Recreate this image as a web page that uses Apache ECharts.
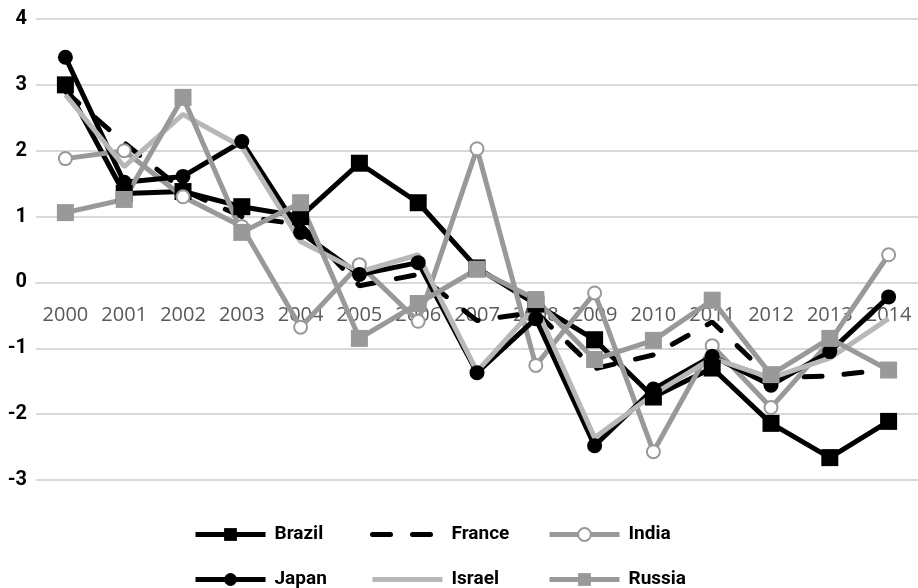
<!DOCTYPE html>
<html>
<head>
<meta charset="utf-8">
<script src="https://cdn.jsdelivr.net/npm/echarts@6/dist/echarts.min.js"></script>
<style>
  html, body { margin: 0; padding: 0; background: #ffffff; }
  #chart { width: 918px; height: 588px; }
</style>
</head>
<body>
<div id="chart"></div>
<script>
// Years along the category axis
const years = ['2000', '2001', '2002', '2003', '2004', '2005', '2006', '2007',
               '2008', '2009', '2010', '2011', '2012', '2013', '2014'];

// Annual values per country
const brazil = [3.0, 1.35, 1.38, 1.15, 1.0, 1.81, 1.21, 0.22, -0.33, -0.87, -1.74, -1.3, -2.14, -2.66, -2.11];
const france = [2.9, 2.12, 1.4, 1.0, 0.88, -0.05, 0.12, -0.58, -0.45, -1.31, -1.1, -0.6, -1.45, -1.42, -1.32];
const india  = [1.88, 2.0, 1.3, 0.85, -0.68, 0.27, -0.59, 2.03, -1.26, -0.16, -2.57, -0.96, -1.9, -0.9, 0.42];
const japan  = [3.42, 1.52, 1.61, 2.14, 0.76, 0.12, 0.3, -1.37, -0.55, -2.48, -1.62, -1.12, -1.56, -1.05, -0.22];
const israel = [2.85, 1.76, 2.55, 2.06, 0.62, 0.16, 0.42, -1.35, -0.37, -2.36, -1.7, -1.15, -1.45, -1.15, -0.55];
const russia = [1.06, 1.26, 2.81, 0.76, 1.21, -0.85, -0.32, 0.2, -0.26, -1.17, -0.88, -0.27, -1.4, -0.85, -1.33];

// Value axis range
const yMin = -3, yMax = 4, yStep = 1;

const boldFont = "'Liberation Sans Narrow', Roboto, sans-serif";
const gridColor = '#d9d9d9';

// One legend block per entry, laid out as a 3 x 2 table
function legendCell(name, left, top, hideSymbol) {
  const item = { name: name };
  if (hideSymbol) item.itemStyle = { opacity: 0 };
  return {
    left: left,
    top: top,
    padding: 0,
    orient: 'horizontal',
    itemWidth: 70,
    itemHeight: 16,
    lineStyle: { width: 5 },
    textStyle: {
      fontFamily: boldFont,
      fontWeight: 'bold',
      fontSize: 19,
      color: '#000',
      padding: [0, 0, 0, 4]
    },
    data: [item]
  };
}

const chart = echarts.init(document.getElementById('chart'), null, { renderer: 'canvas' });

chart.setOption({
  animation: false,
  backgroundColor: '#ffffff',
  grid: { left: 36, right: 0, top: 19, bottom: 108, containLabel: false },
  legend: [
    legendCell('Brazil', 193, 525, false),
    legendCell('France', 370, 525, true),
    legendCell('India', 547, 525, false),
    legendCell('Japan', 193, 570, false),
    legendCell('Israel', 370, 570, true),
    legendCell('Russia', 547, 570, false)
  ],
  xAxis: {
    type: 'category',
    data: years,
    boundaryGap: true,
    // labels sit just under the zero line
    offset: -197,
    axisLine: { show: true, onZero: false, lineStyle: { color: gridColor, width: 2 } },
    axisTick: { show: false },
    axisLabel: {
      margin: 22,
      fontFamily: "'Open Sans', sans-serif",
      fontSize: 20,
      color: '#595959',
      interval: 0
    }
  },
  yAxis: {
    type: 'value',
    min: yMin,
    max: yMax,
    interval: yStep,
    axisLine: { show: false },
    axisTick: { show: false },
    splitLine: { lineStyle: { color: gridColor, width: 2 } },
    axisLabel: {
      margin: 9,
      fontFamily: boldFont,
      fontWeight: 'bold',
      fontSize: 20,
      color: '#000'
    }
  },
  series: [
    {
      name: 'Brazil', type: 'line', data: brazil,
      symbol: 'rect', symbolSize: 17,
      lineStyle: { color: '#000', width: 5 },
      itemStyle: { color: '#000' }
    },
    {
      name: 'France', type: 'line', data: france,
      symbol: 'none',
      lineStyle: { color: '#000', width: 5, type: [18, 22], cap: 'round' },
      itemStyle: { color: '#000' }
    },
    {
      name: 'India', type: 'line', data: india,
      symbol: 'circle', symbolSize: 13,
      lineStyle: { color: '#999999', width: 5 },
      itemStyle: { color: '#ffffff', borderColor: '#999999', borderWidth: 2 }
    },
    {
      name: 'Japan', type: 'line', data: japan,
      symbol: 'circle', symbolSize: 15,
      lineStyle: { color: '#000', width: 5 },
      itemStyle: { color: '#000' }
    },
    {
      name: 'Israel', type: 'line', data: israel,
      symbol: 'none',
      lineStyle: { color: '#b8b8b8', width: 5 },
      itemStyle: { color: '#b8b8b8' }
    },
    {
      name: 'Russia', type: 'line', data: russia,
      symbol: 'rect', symbolSize: 17,
      lineStyle: { color: '#999999', width: 5 },
      itemStyle: { color: '#999999' }
    }
  ]
});
</script>
</body>
</html>
